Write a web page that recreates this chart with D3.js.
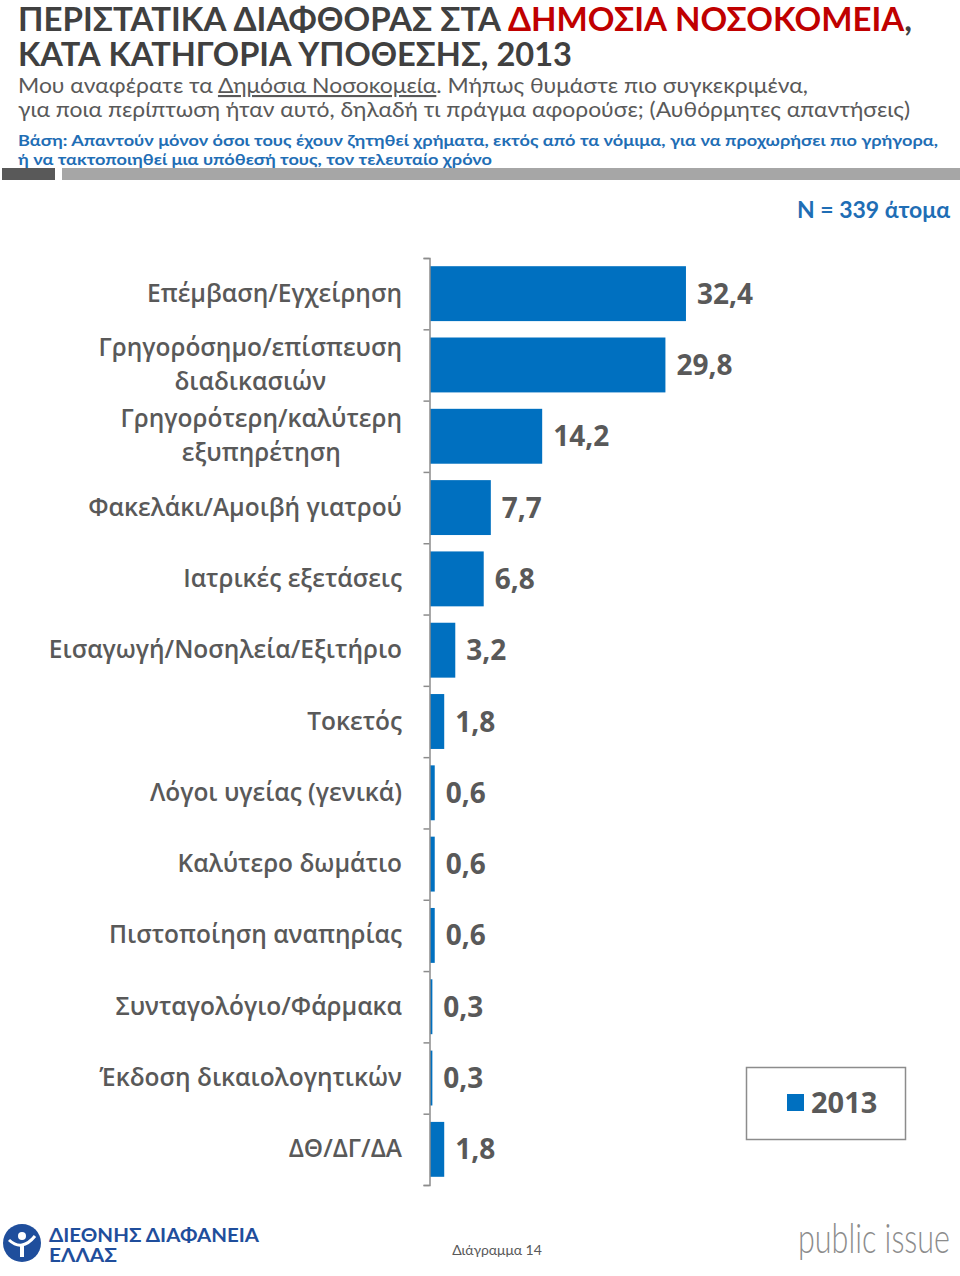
<!DOCTYPE html>
<html><head><meta charset="utf-8">
<script src="https://cdn.jsdelivr.net/npm/d3@7"></script>
<style>
body{margin:0;background:#fff;}
svg{display:block;}
text{font-family:"Lato","Open Sans",sans-serif;}
</style></head>
<body>
<svg id="c" width="960" height="1276"></svg>
<script>
const categories = [
  ["Επέμβαση/Εγχείρηση"],
  ["Γρηγορόσημο/επίσπευση", "διαδικασιών"],
  ["Γρηγορότερη/καλύτερη", "εξυπηρέτηση"],
  ["Φακελάκι/Αμοιβή γιατρού"],
  ["Ιατρικές εξετάσεις"],
  ["Εισαγωγή/Νοσηλεία/Εξιτήριο"],
  ["Τοκετός"],
  ["Λόγοι υγείας (γενικά)"],
  ["Καλύτερο δωμάτιο"],
  ["Πιστοποίηση αναπηρίας"],
  ["Συνταγολόγιο/Φάρμακα"],
  ["Έκδοση δικαιολογητικών"],
  ["ΔΘ/ΔΓ/ΔΑ"]
];
const values = [32.4, 29.8, 14.2, 7.7, 6.8, 3.2, 1.8, 0.6, 0.6, 0.6, 0.3, 0.3, 1.8];
const seriesName = "2013";

const svg = d3.select("#c");
const blue = "#0070c0";
const grey = "#595959";

// Header
const t1 = svg.append("text").attr("x", 18).attr("y", 31)
  .attr("font-size", 33).attr("font-weight", 700).attr("fill", "#404040")
  .attr("textLength", 894).attr("lengthAdjust", "spacingAndGlyphs");
t1.append("tspan").text("ΠΕΡΙΣΤΑΤΙΚΑ ΔΙΑΦΘΟΡΑΣ ΣΤΑ ");
t1.append("tspan").attr("fill", "#c00000").text("ΔΗΜΟΣΙΑ ΝΟΣΟΚΟΜΕΙΑ");
t1.append("tspan").text(",");
svg.append("text").attr("x", 18).attr("y", 66)
  .attr("font-size", 33).attr("font-weight", 700).attr("fill", "#404040")
  .attr("textLength", 554).attr("lengthAdjust", "spacingAndGlyphs")
  .text("ΚΑΤΑ ΚΑΤΗΓΟΡΙΑ ΥΠΟΘΕΣΗΣ, 2013");

const s1 = svg.append("text").attr("x", 18).attr("y", 93)
  .attr("font-size", 21).attr("font-weight", 400).attr("fill", grey)
  .attr("textLength", 790).attr("lengthAdjust", "spacingAndGlyphs");
s1.append("tspan").text("Μου αναφέρατε τα ");
s1.append("tspan").attr("text-decoration", "underline").text("Δημόσια Νοσοκομεία");
s1.append("tspan").text(". Μήπως θυμάστε πιο συγκεκριμένα,");
svg.append("text").attr("x", 18).attr("y", 117)
  .attr("font-size", 21).attr("font-weight", 400).attr("fill", grey)
  .attr("textLength", 892).attr("lengthAdjust", "spacingAndGlyphs")
  .text("για ποια περίπτωση ήταν αυτό, δηλαδή τι πράγμα αφορούσε; (Αυθόρμητες απαντήσεις)");

svg.append("text").attr("x", 18).attr("y", 146)
  .attr("font-size", 16).attr("font-weight", 700).attr("fill", "#1f6eb5")
  .attr("textLength", 920).attr("lengthAdjust", "spacingAndGlyphs")
  .text("Βάση: Απαντούν μόνον όσοι τους έχουν ζητηθεί χρήματα, εκτός από τα νόμιμα, για να προχωρήσει πιο γρήγορα,");
svg.append("text").attr("x", 18).attr("y", 165)
  .attr("font-size", 16).attr("font-weight", 700).attr("fill", "#1f6eb5")
  .attr("textLength", 474).attr("lengthAdjust", "spacingAndGlyphs")
  .text("ή να τακτοποιηθεί μια υπόθεσή τους, τον τελευταίο χρόνο");

svg.append("rect").attr("x", 2).attr("y", 168).attr("width", 53).attr("height", 12).attr("fill", "#595959");
svg.append("rect").attr("x", 62).attr("y", 168).attr("width", 898).attr("height", 12).attr("fill", "#a6a6a6");

svg.append("text").attr("x", 950).attr("y", 218).attr("text-anchor", "end")
  .attr("font-size", 23).attr("font-weight", 700).attr("fill", "#1f6eb5")
  .text("N = 339 άτομα");

// Chart
const y = d3.scaleBand().domain(d3.range(categories.length)).range([258, 1185]).paddingInner(0.23).paddingOuter(0.115);
const yEdge = d3.scaleLinear().domain([0, categories.length]).range([258, 1185]);
const x = d3.scaleLinear().domain([0, 35]).range([430, 430 + 7.9 * 35]);

const g = svg.append("g");
g.selectAll("rect.bar").data(values).join("rect").attr("class", "bar")
  .attr("x", x(0)).attr("y", (d, i) => y(i))
  .attr("width", d => x(d) - x(0)).attr("height", y.bandwidth())
  .attr("fill", blue);

const fmt = d => d3.format(".1f")(d).replace(".", ",");
g.selectAll("text.val").data(values).join("text").attr("class", "val")
  .attr("x", d => x(d) + 11).attr("y", (d, i) => y(i) + y.bandwidth() / 2 + 10)
  .attr("font-size", 28).attr("font-weight", 700).attr("fill", grey)
  .style("font-family", "'Open Sans', sans-serif")
  .text(fmt);

// axis
const ax = svg.append("g").attr("transform", "translate(429.5,0)")
  .call(d3.axisLeft(yEdge).tickValues(d3.range(categories.length + 1)).tickFormat("").tickSizeOuter(0).tickSize(6));
ax.selectAll("path,line").attr("stroke", "#8c8c8c").attr("stroke-width", 1.5);

// category labels: block right-aligned at 402, lines centered within block
categories.forEach((lines, i) => {
  const cy = y(i) + y.bandwidth() / 2;
  const lh = 34;
  const t = svg.append("text").attr("text-anchor", "middle")
    .attr("font-size", 24.5).attr("font-weight", 600).attr("fill", grey)
    .style("font-family", "'Open Sans', sans-serif");
  const spans = lines.map((ln, j) => t.append("tspan")
    .attr("y", cy + 8 + (j - (lines.length - 1) / 2) * lh).text(ln));
  const w = d3.max(spans, s => s.node().getComputedTextLength());
  spans.forEach(s => s.attr("x", 402 - w / 2));
});

// legend
svg.append("rect").attr("x", 746.5).attr("y", 1067.5).attr("width", 159).attr("height", 72)
  .attr("fill", "none").attr("stroke", "#8c8c8c").attr("stroke-width", 1.5);
svg.append("rect").attr("x", 787).attr("y", 1094).attr("width", 17).attr("height", 17).attr("fill", blue);
svg.append("text").attr("x", 811).attr("y", 1113).attr("font-size", 29).attr("font-weight", 700)
  .style("font-family", "'Open Sans', sans-serif")
  .attr("fill", grey).text(seriesName);

// footer
svg.append("text").attr("x", 497).attr("y", 1255).attr("text-anchor", "middle")
  .attr("font-size", 14).attr("fill", grey).text("Διάγραμμα 14");

const logo = svg.append("g");
logo.append("circle").attr("cx", 22).attr("cy", 1243).attr("r", 19).attr("fill", "#1f4e9c");
logo.append("circle").attr("cx", 22).attr("cy", 1236).attr("r", 4).attr("fill", "#fff");
logo.append("path").attr("d", "M9,1240 Q22,1252 35,1236").attr("stroke", "#fff").attr("stroke-width", 3).attr("fill", "none");
logo.append("rect").attr("x", 20).attr("y", 1244).attr("width", 4).attr("height", 13).attr("fill", "#fff");
logo.append("text").attr("x", 49).attr("y", 1242).attr("font-size", 18).attr("font-weight", 700)
  .attr("fill", "#1f4e9c").attr("textLength", 210).attr("lengthAdjust", "spacingAndGlyphs").text("ΔΙΕΘΝΗΣ ΔΙΑΦΑΝΕΙΑ");
logo.append("text").attr("x", 49).attr("y", 1262).attr("font-size", 18).attr("font-weight", 700)
  .attr("fill", "#1f4e9c").attr("textLength", 68).attr("lengthAdjust", "spacingAndGlyphs").text("ΕΛΛΑΣ");

svg.append("text").attr("x", 798).attr("y", 1253).attr("font-size", 42).attr("font-weight", 300)
  .attr("fill", "#8c8c8c").attr("textLength", 152).attr("lengthAdjust", "spacingAndGlyphs")
  .text("public issue");
</script>
</body></html>
